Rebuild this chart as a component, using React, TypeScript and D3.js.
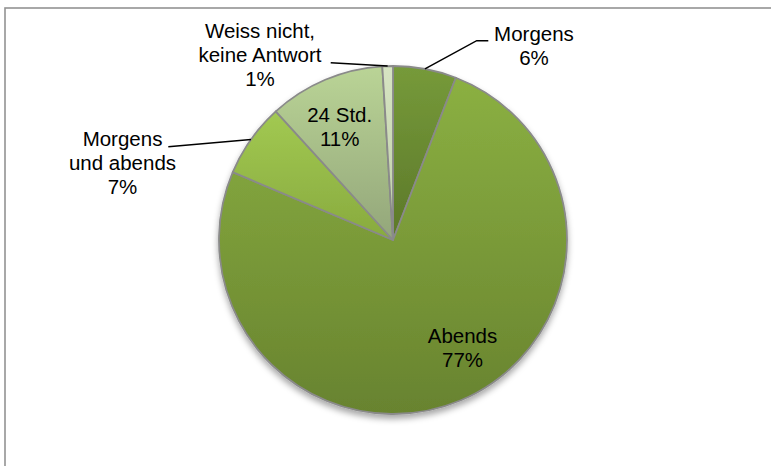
import React from "react";
import * as d3 from "d3";

const W = 771;
const H = 466;
const CX = 393;
const CY = 240;
const RADIUS = 174;
const FONT = "Arial, 'Liberation Sans', sans-serif";

// data
const categories = [
  "Morgens",
  "Abends",
  "Morgens und abends",
  "24 Std.",
  "Weiss nicht, keine Antwort",
];
const values = [6, 77, 7, 11, 1];
const labelLines = [
  ["Morgens"],
  ["Abends"],
  ["Morgens", "und abends"],
  ["24 Std."],
  ["Weiss nicht,", "keine Antwort"],
];

// colours (gradient top -> bottom)
const topColors = ["#769a3a", "#8bb042", "#a2c952", "#bad496", "#d6e4c2"];
const bottomColors = ["#5c7829", "#68832f", "#88aa3e", "#93a67a", "#bfcfa8"];

// label layout, relative to the pie centre
const labelLayout = [
  { x: 141, y: -199.5, leader: [[83.7, -199.3], [95.3, -199.3]] },
  { x: 69.5, y: 102.7, leader: null },
  { x: -270.5, y: -94, leader: [[-224.7, -93.3]] },
  { x: -53.3, y: -117.7, leader: null },
  { x: -133, y: -201.7, leader: [[-62.3, -177.3]] },
];

const LINE_H = 24;

export default function App() {
  const arcs = d3
    .pie<number>()
    .sort(null)
    .value((d) => d)(values);

  const arcGen = d3
    .arc<d3.PieArcDatum<number>>()
    .innerRadius(0)
    .outerRadius(RADIUS);

  const edgePoint = (a: d3.PieArcDatum<number>): [number, number] => {
    const mid = (a.startAngle + a.endAngle) / 2;
    return [RADIUS * Math.sin(mid), -RADIUS * Math.cos(mid)];
  };

  const lineGen = d3.line();

  return (
    <svg
      width={W}
      height={H}
      style={{ position: "absolute", left: 0, top: 0, background: "#fff" }}
    >
      <defs>
        {categories.map((c, i) => (
          <linearGradient key={c} id={`grad${i}`} x1="0" y1="0" x2="0" y2="1">
            <stop offset="0%" stopColor={topColors[i]} />
            <stop offset="100%" stopColor={bottomColors[i]} />
          </linearGradient>
        ))}
        <filter id="shadow" x="-20%" y="-20%" width="140%" height="140%">
          <feDropShadow
            dx="0"
            dy="4"
            stdDeviation="3"
            floodColor="#000"
            floodOpacity="0.35"
          />
        </filter>
      </defs>

      {/* chart frame */}
      <rect
        x={5}
        y={8}
        width={W + 20}
        height={H + 20}
        fill="none"
        stroke="#939393"
        strokeWidth={1.6}
      />

      <g transform={`translate(${CX},${CY})`}>
        <g filter="url(#shadow)">
          {arcs.map((a, i) => (
            <path
              key={categories[i]}
              d={arcGen(a) || ""}
              fill={`url(#grad${i})`}
              stroke="#8a8a8a"
              strokeWidth={1.8}
              strokeLinejoin="round"
            />
          ))}
        </g>

        {/* leader lines */}
        {arcs.map((a, i) => {
          const lay = labelLayout[i];
          if (!lay.leader) return null;
          const pts: [number, number][] = [
            edgePoint(a),
            ...(lay.leader as [number, number][]),
          ];
          return (
            <path
              key={`l${i}`}
              d={lineGen(pts) || ""}
              fill="none"
              stroke="#000"
              strokeWidth={1.5}
            />
          );
        })}

        {/* labels */}
        {arcs.map((a, i) => {
          const lay = labelLayout[i];
          const lines = [...labelLines[i], `${values[i]}%`];
          return (
            <text
              key={`t${i}`}
              x={lay.x}
              y={lay.y}
              textAnchor="middle"
              fontFamily={FONT}
              fontSize={20.5}
              fill="#000"
            >
              {lines.map((ln, k) => (
                <tspan key={k} x={lay.x} y={lay.y + k * LINE_H}>
                  {ln}
                </tspan>
              ))}
            </text>
          );
        })}
      </g>
    </svg>
  );
}
